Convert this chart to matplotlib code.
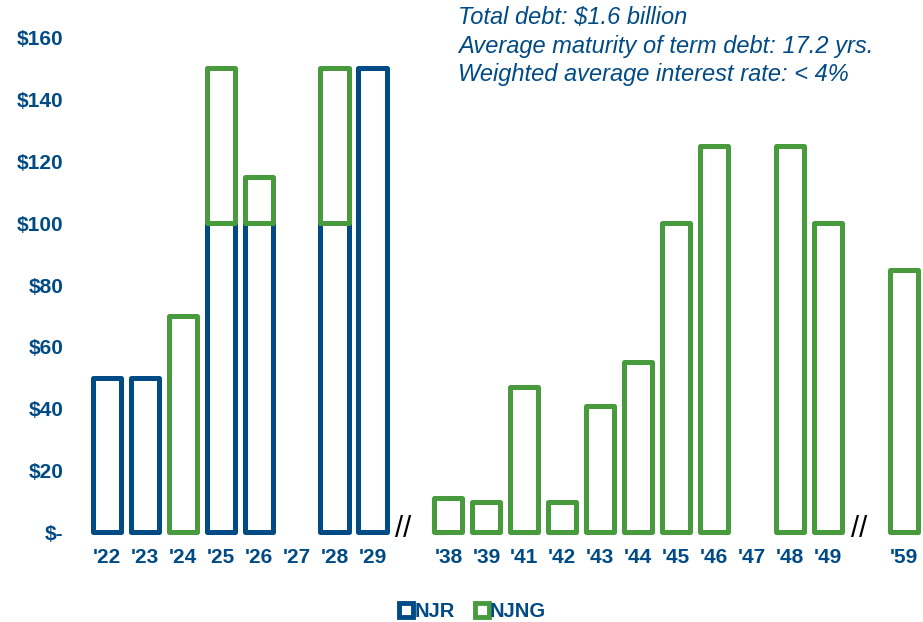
import matplotlib.pyplot as plt
import numpy as np
from matplotlib.lines import Line2D

# maturity years (empty slots hold the axis breaks)
years = ["'22", "'23", "'24", "'25", "'26", "'27", "'28", "'29", "",
         "'38", "'39", "'41", "'42", "'43", "'44", "'45", "'46", "'47",
         "'48", "'49", "", "'59"]
njr = [50, 50, 0, 100, 100, 0, 100, 150, 0,
       0, 0, 0, 0, 0, 0, 0, 0, 0, 0, 0, 0, 0]
njng = [0, 0, 70, 50, 15, 0, 50, 0, 0,
        11, 10, 47, 10, 41, 55, 100, 125, 0, 125, 100, 0, 85]
y_ticks = [0, 20, 40, 60, 80, 100, 120, 140, 160]
y_labels = ["$-", "$20", "$40", "$60", "$80", "$100", "$120", "$140", "$160"]

blue = "#004A85"
green = "#489B3C"
plt.rcParams["font.family"] = ["Liberation Sans", "DejaVu Sans"]

fig = plt.figure(figsize=(9.23, 6.22), dpi=100)
ax = fig.add_axes([0.093, 0.1439, 0.905, 0.7958])

x = np.arange(len(years))
njr = np.array(njr, dtype=float)
njng = np.array(njng, dtype=float)

def draw(vals, bottom, color):
    m = vals > 0
    bars = ax.bar(x[m], vals[m], bottom=bottom[m], width=0.74,
                  facecolor="white", edgecolor=color, linewidth=3.6,
                  clip_on=False)
    for b in bars:
        b.set_joinstyle("round")

draw(njr, np.zeros_like(njr), blue)
draw(njng, njr, green)

ax.set_xlim(-0.55, len(years) - 0.55)
ax.set_ylim(0, 160)
ax.set_xticks(x)
ax.set_xticklabels(years)
ax.set_yticks(y_ticks)
ax.set_yticklabels(y_labels)
ax.tick_params(length=0, labelsize=15, labelcolor=blue)
ax.tick_params(axis="x", pad=11)
ax.tick_params(axis="y", pad=16)
for lab in ax.get_xticklabels() + ax.get_yticklabels():
    lab.set_fontweight("bold")
for s in ax.spines.values():
    s.set_visible(False)

# axis break marks
for bx in [7.8, 19.82]:
    ax.text(bx, 1, "//", ha="center", va="center", fontsize=21,
            color="black", clip_on=False)

fig.text(0.496, 0.99, "Total debt: $1.6 billion\n"
         "Average maturity of term debt: 17.2 yrs.\n"
         "Weighted average interest rate: < 4%",
         ha="left", va="top", fontsize=17, style="italic", color=blue,
         linespacing=1.3)

handles = [Line2D([], [], marker="s", ls="", markersize=10,
                  markerfacecolor="white", markeredgecolor=c,
                  markeredgewidth=3.5) for c in (blue, green)]
leg = fig.legend(handles, ["NJR", "NJNG"], loc="center",
                 bbox_to_anchor=(0.512, 0.017), ncol=2, frameon=False,
                 handlelength=0.7, handletextpad=0.05, columnspacing=1.0,
                 prop={"size": 14.5, "weight": "bold"})
for t in leg.get_texts():
    t.set_color(blue)

plt.savefig("out.png", dpi=100)
